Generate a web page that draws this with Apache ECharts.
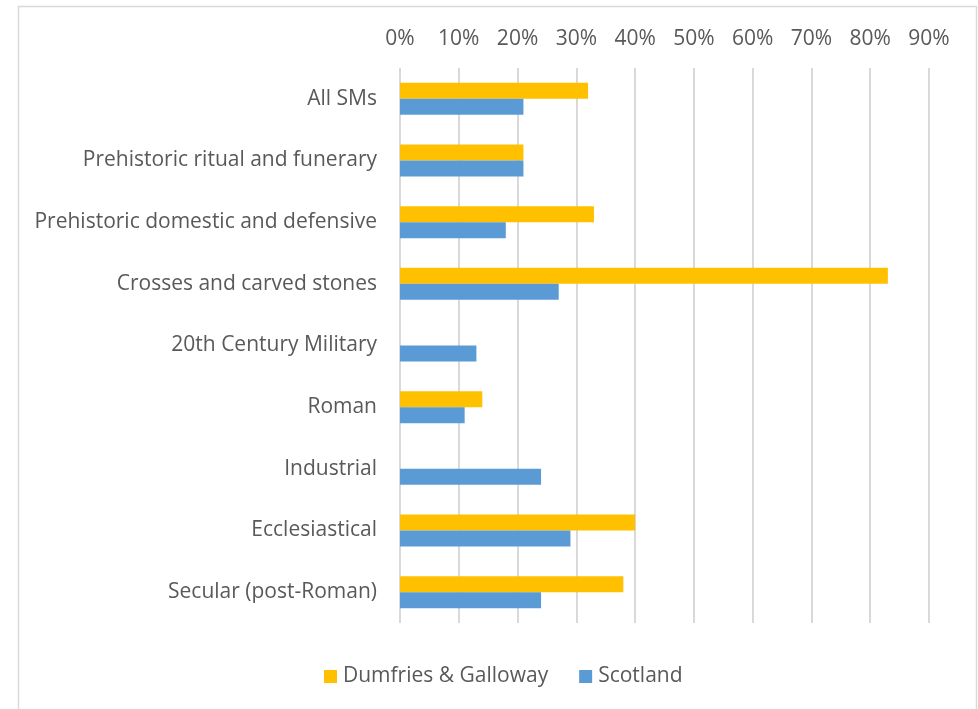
<!DOCTYPE html>
<html>
<head>
<meta charset="utf-8">
<script src="https://cdn.jsdelivr.net/npm/echarts@6/dist/echarts.min.js"></script>
<style>
  html, body { margin: 0; padding: 0; background: #fff; }
  #chart { width: 978px; height: 709px; }
</style>
</head>
<body>
<div id="chart"></div>
<script>
// Share of scheduled monuments by type (%)
const categories = [
  'All SMs',
  'Prehistoric ritual and funerary',
  'Prehistoric domestic and defensive',
  'Crosses and carved stones',
  '20th Century Military',
  'Roman',
  'Industrial',
  'Ecclesiastical',
  'Secular (post-Roman)'
];
const dumfriesGalloway = [32, 21, 33, 83, null, 14, null, 40, 38];
const scotland = [21, 21, 18, 27, 13, 11, 24, 29, 24];
const tickMax = 90;
const tickStep = 10;

const textFont = '"Open Sans", sans-serif';
const textColor = '#595959';

const chart = echarts.init(document.getElementById('chart'), null, { renderer: 'canvas' });
chart.setOption({
  animation: false,
  backgroundColor: '#ffffff',
  graphic: [{
    type: 'rect',
    shape: { x: 18.5, y: 6.5, width: 958, height: 720 },
    style: { fill: 'none', stroke: '#d9d9d9', lineWidth: 1.5 },
    silent: true,
    z: -10
  }],
  grid: { left: 400, right: 49, top: 68, bottom: 86, containLabel: false },
  legend: {
    top: 666,
    left: 324,
    padding: 0,
    itemGap: 31,
    itemWidth: 13,
    itemHeight: 13,
    icon: 'rect',
    textStyle: { fontFamily: textFont, fontSize: 21, color: textColor, padding: [0, 0, 0, 1] },
    data: ['Dumfries & Galloway', 'Scotland']
  },
  xAxis: {
    type: 'value',
    position: 'top',
    min: 0,
    max: tickMax,
    interval: tickStep,
    axisLine: { show: false },
    axisTick: { show: false },
    axisLabel: {
      formatter: v => v + '%',
      fontFamily: textFont,
      fontSize: 21,
      color: textColor,
      margin: 18
    },
    splitLine: { show: true, lineStyle: { color: '#d9d9d9', width: 2 } }
  },
  yAxis: {
    type: 'category',
    data: categories,
    inverse: true,
    axisLine: { show: false },
    axisTick: { show: false },
    axisLabel: {
      fontFamily: textFont,
      fontSize: 21,
      color: textColor,
      margin: 23,
      padding: [4, 0, 0, 0]
    }
  },
  series: [
    {
      name: 'Dumfries & Galloway',
      type: 'bar',
      data: dumfriesGalloway,
      barWidth: 16,
      barGap: '0%',
      itemStyle: { color: '#ffc000' }
    },
    {
      name: 'Scotland',
      type: 'bar',
      data: scotland,
      barWidth: 16,
      barGap: '0%',
      itemStyle: { color: '#5b9bd5' }
    }
  ]
});
</script>
</body>
</html>
